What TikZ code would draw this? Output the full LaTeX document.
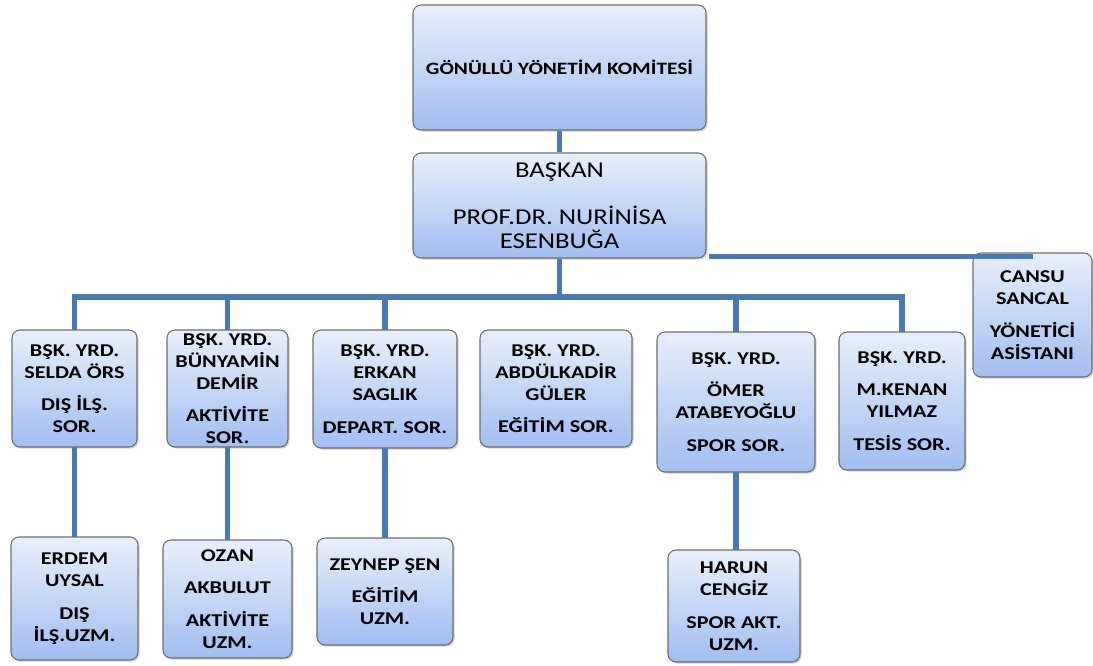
\documentclass[tikz,border=0pt]{standalone}
\usepackage{fontspec}
\setmainfont{Carlito}
\newfontfamily\widefont[FakeStretch=1.23]{Carlito}
\newfontfamily\widebig[FakeStretch=1.18]{Carlito}
\usetikzlibrary{fit,shadows}
\definecolor{boxtop}{HTML}{E8EFFB}
\definecolor{boxbot}{HTML}{A0BEF0}
\definecolor{boxline}{HTML}{6E6E6E}
\definecolor{connc}{HTML}{4A7AB5}
\newcommand\orgbox[6]{%
  \node[orgnode, fit={(#2,#3) (#4,#5)}] (#1) {};
  \node[lbl] (#1-t) at (#1.center) {#6};}
\begin{document}
\begin{tikzpicture}[x=0.75pt,y=-0.75pt,
  orgnode/.style={draw=boxline, line width=0.8pt, rounded corners=6pt,
    top color=boxtop, bottom color=boxbot, inner sep=0pt,
    drop shadow={shadow xshift=1.2pt, shadow yshift=-1.2pt, opacity=0.35}},
  lbl/.style={align=center, font=\widefont\bfseries\fontsize{13.5}{16.5}\selectfont, inner sep=0pt},
  bigl/.style={align=center, font=\widebig\fontsize{17}{18}\selectfont, inner sep=0pt},
  topl/.style={align=center, font=\widefont\bfseries\fontsize{13}{15}\selectfont, inner sep=0pt},
  link/.style={draw=connc, line width=4.3pt}]
\useasboundingbox (0,0) rectangle (1093,665);
\coordinate (bar) at (480,297);
% boxes
\node[orgnode, fit={(413,5) (706,130)}] (top) {};
\node[topl] (top-t) at (top.center) {GÖNÜLLÜ YÖNETİM KOMİTESİ};
\node[orgnode, fit={(413,153) (706,258)}] (bsk) {};
% connectors under boxes
\path[link] (top.south) -- (bsk.north);
\path[link] (bsk.south) -- (bsk.south |- bar);
\path[link] (74.5,330) |- (bar) -| (902,332);
\path[link] (227.5,330) -- (227.5,297);
\path[link] (385,330) -- (385,297);
\path[link] (74.5,447) -- (74.5,537);
\path[link] (227.5,447) -- (227.5,540);
\path[link] (385,448) -- (385,538);
\path[link] (736,472) -- (736,550);
\path[link] (736,332) -- (736,297);
\node[bigl] (bsk-t) at (bsk.center) {BAŞKAN\\[17pt]PROF.DR. NURİNİSA\\ESENBUĞA};
\orgbox{selda}{12}{330}{137}{447}{BŞK. YRD.\\SELDA ÖRS\\[8pt]DIŞ İLŞ.\\SOR.}
\orgbox{buny}{167}{330}{288}{447}{BŞK. YRD.\\BÜNYAMİN\\DEMİR\\[8pt]AKTİVİTE\\SOR.}
\orgbox{erkan}{313}{330}{457}{448}{BŞK. YRD.\\ERKAN\\SAGLIK\\[8pt]DEPART. SOR.}
\orgbox{abdul}{480}{330}{632}{447}{BŞK. YRD.\\ABDÜLKADİR\\GÜLER\\[8pt]EĞİTİM SOR.}
\orgbox{omer}{657}{332}{815}{472}{BŞK. YRD.\\[8pt]ÖMER\\ATABEYOĞLU\\[8pt]SPOR SOR.}
\orgbox{kenan}{839}{332}{965}{470}{BŞK. YRD.\\[8pt]M.KENAN\\YILMAZ\\[8pt]TESİS SOR.}
\orgbox{cansu}{973}{253}{1092}{377}{CANSU\\SANCAL\\[8pt]YÖNETİCİ\\ASİSTANI}
\orgbox{erdem}{11}{537}{138}{660}{ERDEM\\UYSAL\\[8pt]DIŞ\\İLŞ.UZM.}
\orgbox{ozan}{163}{540}{292}{658}{OZAN\\[8pt]AKBULUT\\[8pt]AKTİVİTE\\UZM.}
\orgbox{zeynep}{317}{538}{453}{645}{ZEYNEP ŞEN\\[8pt]EĞİTİM\\UZM.}
\orgbox{harun}{668}{550}{800}{662}{HARUN\\CENGİZ\\[8pt]SPOR AKT.\\UZM.}
% line to assistant, over the boxes
\path[link] ([xshift=2pt,yshift=1.5pt]bsk.south east) -- ([yshift=1.5pt]bsk.south east -| cansu.north);
\end{tikzpicture}
\end{document}
